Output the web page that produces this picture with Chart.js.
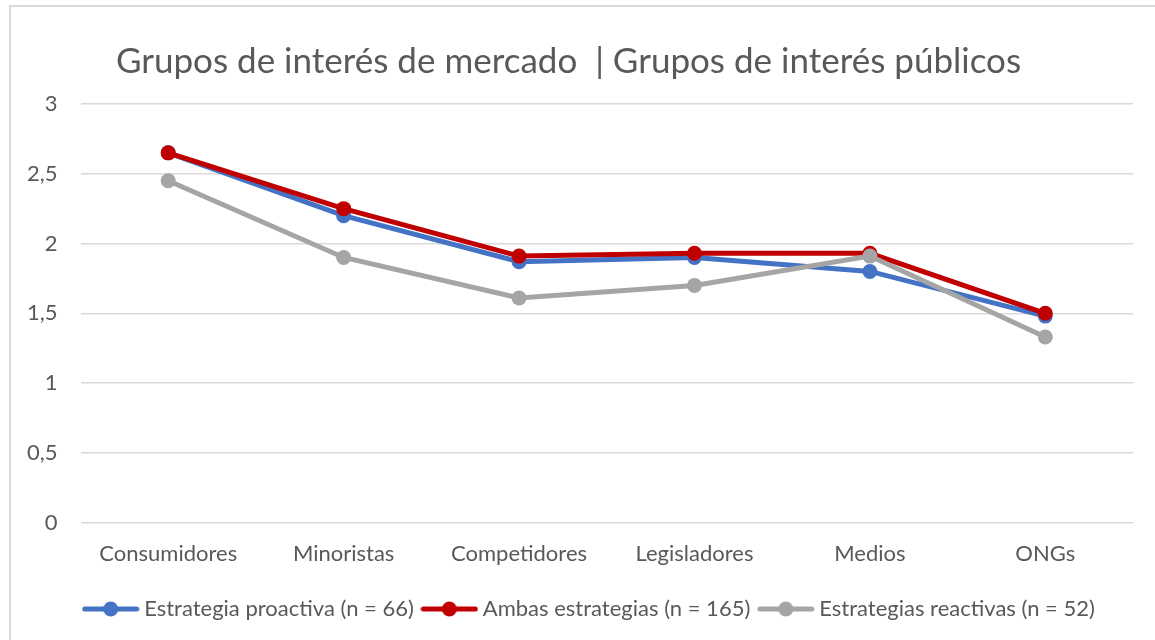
<!DOCTYPE html>
<html>
<head>
<meta charset="utf-8">
<script src="https://cdn.jsdelivr.net/npm/chart.js@4.4.1/dist/chart.umd.min.js"></script>
<style>
  html, body { margin: 0; padding: 0; background: #fff; }
  #wrap { position: relative; width: 1155px; height: 640px; overflow: hidden; }
  #frame {
    position: absolute; left: 9px; top: 5px; width: 1200px; height: 700px;
    border-top: 2px solid #d9d9d9; border-left: 2px solid #d9d9d9;
  }
  #chart { position: absolute; left: 0; top: 0; }
</style>
</head>
<body>
<div id="wrap">
  <div id="frame"></div>
  <canvas id="chart" width="1155" height="640"></canvas>
</div>
<script>
// Stakeholder groups on the x axis
const categories = ['Consumidores', 'Minoristas', 'Competidores', 'Legisladores', 'Medios', 'ONGs'];

// Mean scores per strategy group
const proactiva = [2.65, 2.20, 1.87, 1.90, 1.80, 1.48];
const ambas = [2.65, 2.25, 1.91, 1.93, 1.93, 1.50];
const reactivas = [2.45, 1.90, 1.61, 1.70, 1.91, 1.33];

const seriesNames = [
    'Estrategia proactiva (n = 66)',
    'Ambas estrategias (n = 165)',
    'Estrategias reactivas (n = 52)'
];
const seriesColors = ['#4472C4', '#C00000', '#A5A5A5'];

const yTickLabels = ['0', '0,5', '1', '1,5', '2', '2,5', '3'];

const titleText = 'Grupos de interés de mercado  | Grupos de interés públicos';

const FONT = 'Lato, "Open Sans", sans-serif';
const TEXT_COLOR = '#595959';

// Small line-with-dot swatch used as the legend symbol
function legendSwatch(color) {
    const c = document.createElement('canvas');
    c.width = 58;
    c.height = 18;
    const ctx = c.getContext('2d');
    ctx.strokeStyle = color;
    ctx.lineWidth = 5;
    ctx.lineCap = 'round';
    ctx.beginPath();
    ctx.moveTo(3, 9);
    ctx.lineTo(55, 9);
    ctx.stroke();
    ctx.fillStyle = color;
    ctx.beginPath();
    ctx.arc(29, 9, 7.5, 0, Math.PI * 2);
    ctx.fill();
    return c;
}

const seriesValues = [proactiva, ambas, reactivas];
// blue drawn first, grey on top
const drawOrder = [2, 1, 0];

const datasets = seriesValues.map((values, i) => ({
    label: seriesNames[i],
    data: values,
    borderColor: seriesColors[i],
    backgroundColor: seriesColors[i],
    borderWidth: 5,
    pointRadius: 7.5,
    pointHoverRadius: 7.5,
    pointBorderWidth: 0,
    pointStyle: 'circle',
    order: drawOrder[i],
    tension: 0
}));

const swatches = seriesColors.map(legendSwatch);

// nudge the legend row to the right after layout
const legendShift = {
    id: 'legendShift',
    afterLayout(chart) {
        if (chart.legend) {
            chart.legend.left += 23;
            chart.legend.right += 23;
        }
    }
};

new Chart(document.getElementById('chart'), {
    type: 'line',
    data: { labels: categories, datasets: datasets },
    plugins: [legendShift],
    options: {
        responsive: false,
        animation: false,
        layout: { padding: { left: 4, right: 22, top: 0, bottom: 10 } },
        plugins: {
            title: {
                display: true,
                text: titleText,
                color: TEXT_COLOR,
                font: { family: FONT, size: 35, weight: 'normal' },
                padding: { top: 41, bottom: 21 }
            },
            legend: {
                position: 'bottom',
                labels: {
                    color: TEXT_COLOR,
                    font: { family: FONT, size: 22 },
                    usePointStyle: true,
                    pointStyleWidth: 45,
                    padding: 13,
                    generateLabels(chart) {
                        return chart.data.datasets.map((ds, i) => ({
                            text: ds.label,
                            fillStyle: ds.borderColor,
                            strokeStyle: ds.borderColor,
                            fontColor: TEXT_COLOR,
                            lineWidth: 0,
                            pointStyle: swatches[i],
                            hidden: false,
                            datasetIndex: i
                        }));
                    }
                }
            },
            tooltip: { enabled: false }
        },
        scales: {
            x: {
                offset: true,
                grid: { display: false, drawTicks: false, offset: true },
                border: { display: false },
                ticks: {
                    color: TEXT_COLOR,
                    font: { family: FONT, size: 22 },
                    padding: 18,
                    maxRotation: 0
                }
            },
            y: {
                min: 0,
                max: 3,
                grid: { color: '#d9d9d9', lineWidth: 1.5, drawTicks: false },
                border: { display: false },
                ticks: {
                    stepSize: 0.5,
                    color: TEXT_COLOR,
                    font: { family: FONT, size: 22 },
                    padding: 23,
                    callback: (value, index) => yTickLabels[index]
                }
            }
        }
    }
});
</script>
</body>
</html>
